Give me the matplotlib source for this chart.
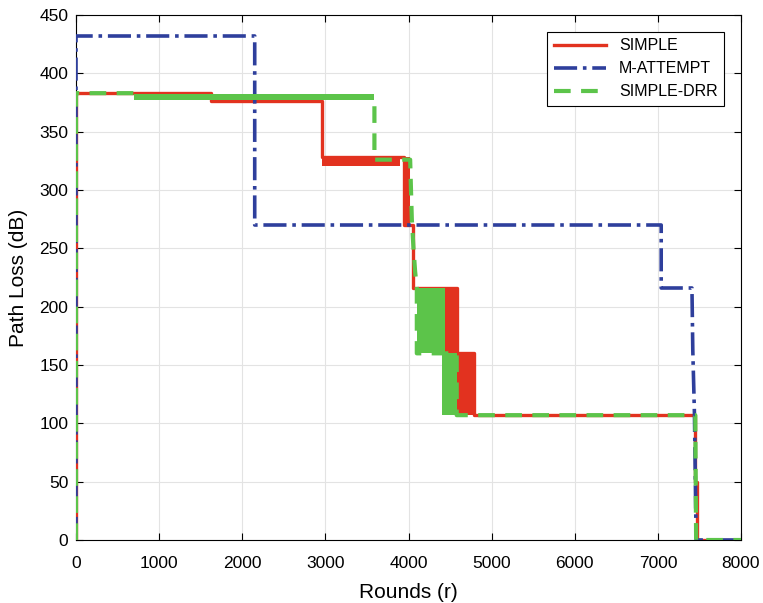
"""
Path loss vs. rounds for the SIMPLE, M-ATTEMPT and SIMPLE-DRR protocols.
"""

import matplotlib
matplotlib.use("Agg")
import matplotlib.pyplot as plt

# Step traces (vertices, rounds / dB).
SIMPLE_X = [0, 0, 1620, 1620, 2955, 2955, 3950, 3950, 4060, 4060, 4580, 4580, 4790, 4790, 7450, 7450, 7470, 7470, 8000]
SIMPLE_Y = [0, 383, 383, 376, 376, 328, 328, 270, 270, 216, 216, 160, 160, 107, 107, 50, 50, 0, 0]

MATTEMPT_X = [0, 0, 2150, 2150, 7040, 7040, 7410, 7420, 7440, 7460, 8000]
MATTEMPT_Y = [0, 432, 432, 270, 270, 216, 216, 163, 108, 0, 0]

DRR_X = [0, 0, 690, 690, 3590, 3590, 4020, 4030, 4040, 4060, 4080, 4100, 4100, 4580, 4580, 7450, 7460, 8000]
DRR_Y = [0, 383, 383, 380, 380, 326, 326, 300, 275, 250, 230, 216, 160, 160, 107, 107, 0, 0]

# Regions where a trace oscillates rapidly: (x0, x1, y_low, y_high).
SIMPLE_BANDS = [(2955, 3900, 321, 328), (3930, 4020, 270, 328), (4040, 4080, 216, 270),
                (4100, 4580, 160, 216), (4400, 4800, 107, 160)]
DRR_BANDS = [(700, 3590, 377, 382), (4100, 4440, 160, 216), (4400, 4580, 107, 160)]

RED = "#E2321F"
BLUE = "#2E3F9C"
GREEN = "#5CC44A"

plt.rcParams["font.family"] = ["Liberation Sans", "DejaVu Sans"]

fig = plt.figure(figsize=(7.63, 6.03), dpi=100)
ax = fig.add_axes([76 / 763, 1 - 540 / 603, (741 - 76) / 763, (540 - 15) / 603])

ax.plot(SIMPLE_X, SIMPLE_Y, color=RED, lw=2.4, ls="-", label="SIMPLE", zorder=3)
for x0, x1, y0, y1 in SIMPLE_BANDS:
    ax.fill_between([x0, x1], [y0, y0], [y1, y1], color=RED, lw=0, zorder=3)

ax.plot(MATTEMPT_X, MATTEMPT_Y, color=BLUE, lw=2.6, ls="-.", label="M-ATTEMPT", zorder=4)

ax.plot(DRR_X, DRR_Y, color=GREEN, lw=3.0, dashes=(4, 2.5), label="SIMPLE-DRR", zorder=5)
for x0, x1, y0, y1 in DRR_BANDS:
    ax.fill_between([x0, x1], [y0, y0], [y1, y1], color=GREEN, lw=0, zorder=5)

ax.set_xlim(0, 8000)
ax.set_ylim(0, 450)
ax.set_xticks(range(0, 8001, 1000))
ax.set_yticks(range(0, 451, 50))
ax.tick_params(direction="in", top=True, right=True, labelsize=12.5, length=5, width=0.8)
ax.tick_params(axis="x", pad=11.5)
ax.tick_params(axis="y", pad=5.5)
ax.grid(True, color="#e3e3e3", lw=0.8)
ax.set_axisbelow(True)
for s in ax.spines.values():
    s.set_linewidth(0.8)

ax.set_xlabel("Rounds (r)", fontsize=15, labelpad=9)
ax.set_ylabel("Path Loss (dB)", fontsize=15, labelpad=8)

leg = ax.legend(loc="upper right", fontsize=11.5, borderaxespad=1.05, handlelength=3.3,
                fancybox=False, framealpha=1, edgecolor="black")
leg.get_frame().set_linewidth(0.8)

fig.savefig("out.png", dpi=100)
